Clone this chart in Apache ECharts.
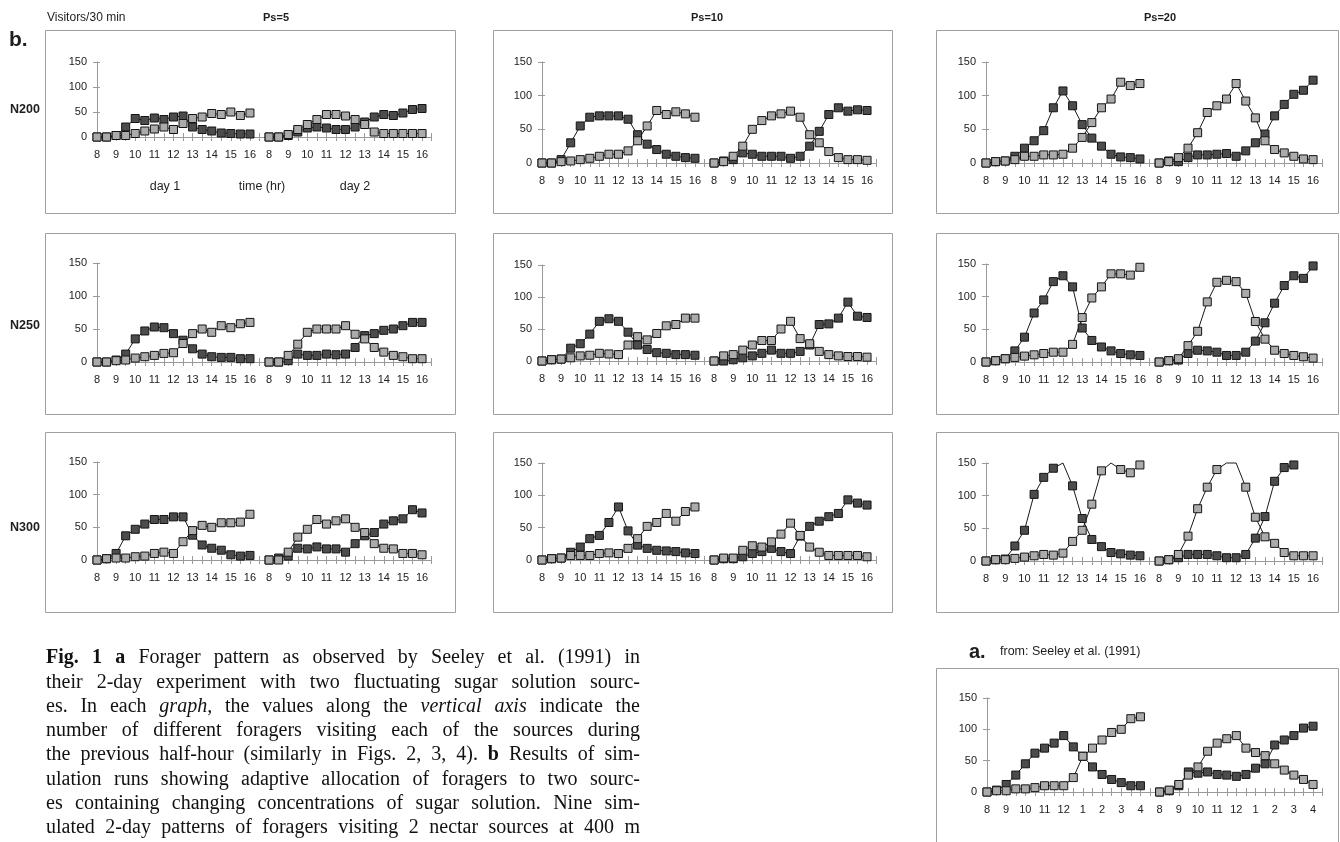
<!DOCTYPE html>
<html><head><meta charset="utf-8">
<script src="https://cdn.jsdelivr.net/npm/echarts@6/dist/echarts.min.js"></script>
<style>html,body{margin:0;padding:0;background:#fff}#c{width:1340px;height:842px}</style>
</head><body><div id="c"></div>
<script>
// ---- tick labels ----
const hoursSim = ['8','9','10','11','12','13','14','15','16'];
const hoursSeeley = ['8','9','10','11','12','1','2','3','4'];

// ---- data: 17 half-hour values for day 1 (8:00-16:00) followed by 17 for day 2 ----
// N200
const n200_ps5_dark   = [0,0,3,20,37,33,38,35,40,42,20,15,12,8,7,6,6,  0,0,3,10,18,20,18,15,15,20,30,40,45,43,48,55,57];
const n200_ps5_light  = [0,0,3,3,7,12,16,20,15,27,37,40,47,45,50,43,48,  0,0,5,15,25,35,45,45,42,35,25,10,7,7,7,7,7];
const n200_ps10_dark  = [0,0,5,30,55,68,70,70,70,65,42,28,20,13,10,8,7,  0,3,5,15,13,10,10,10,7,10,25,47,72,82,77,79,78];
const n200_ps10_light = [0,0,2,3,5,7,10,13,13,18,33,55,78,72,76,73,68,  0,2,10,25,50,63,70,73,77,68,42,30,17,8,5,5,4];
const n200_ps20_dark  = [0,2,3,10,22,33,48,82,107,85,57,37,25,13,9,8,6,  0,3,2,8,12,12,13,14,10,18,30,43,70,87,102,108,123];
const n200_ps20_light = [0,2,3,5,10,10,12,12,13,22,38,60,82,95,120,115,118,  0,2,8,22,45,75,85,95,118,92,67,33,20,15,10,6,5];
// N250
const n250_ps5_dark   = [0,0,3,12,35,47,53,52,43,33,20,12,8,7,7,5,5,  0,0,2,12,10,10,12,11,12,22,40,43,48,50,55,60,60];
const n250_ps5_light  = [0,0,2,3,6,8,10,13,14,28,43,50,45,55,52,58,60,  0,0,10,27,45,50,50,50,55,42,35,22,15,10,8,5,5];
const n250_ps10_dark  = [0,2,3,20,27,42,62,66,62,45,25,18,13,12,10,10,9,  0,0,2,5,8,12,17,12,12,15,25,57,58,67,92,70,68];
const n250_ps10_light = [0,2,3,5,8,9,12,11,10,25,38,33,43,55,57,67,67,  0,8,10,17,25,32,32,50,62,35,27,15,10,8,7,7,6];
const n250_ps20_dark  = [0,2,5,17,38,75,95,123,132,115,52,33,23,17,13,11,10,  0,2,3,13,18,17,15,10,10,15,32,60,90,117,132,128,147];
const n250_ps20_light = [0,2,5,7,9,11,13,15,15,27,68,98,115,135,135,133,145,  0,2,5,25,47,92,122,125,123,105,62,35,18,13,10,8,6];
// N300
const n300_ps5_dark   = [0,2,10,37,47,55,62,62,66,66,38,23,18,15,8,6,7,  0,3,6,18,17,20,17,17,12,25,37,42,55,60,63,77,72];
const n300_ps5_light  = [0,2,3,3,5,6,10,12,10,28,45,53,50,57,57,58,70,  0,0,12,35,47,62,55,60,63,50,42,25,18,17,10,10,8];
const n300_ps10_dark  = [0,2,3,12,20,33,38,58,82,45,23,18,15,14,13,11,10,  0,2,2,5,10,13,18,13,10,37,52,60,67,72,93,88,85];
const n300_ps10_light = [0,2,3,7,7,7,10,11,10,18,33,52,58,72,60,75,82,  0,3,3,15,22,20,28,40,57,38,20,12,7,7,7,7,5];
const n300_ps20_dark  = [0,2,3,23,47,102,128,142,153,115,65,33,22,13,11,9,8,  0,2,5,10,10,10,8,5,5,10,35,68,122,143,147,null,null];
const n300_ps20_light = [0,2,2,4,6,8,10,9,12,30,47,87,138,152,140,135,147,  0,2,10,38,80,113,140,156,156,113,67,37,27,13,8,8,8];
// Seeley et al. (1991)
const seeley_dark     = [0,3,12,27,45,62,70,78,90,72,57,40,28,20,15,10,10,  0,2,10,32,30,32,28,27,25,28,38,45,75,83,90,102,105];
const seeley_light    = [0,2,2,5,5,7,10,10,10,23,57,70,83,95,100,117,120,  0,3,12,27,40,65,78,85,90,70,63,58,45,35,27,20,12];

// ---- caption ----
const captionLines = [
  '*Fig. *1 *a Forager pattern as observed by Seeley et al. (1991) in',
  'their 2-day experiment with two fluctuating sugar solution sourc-',
  'es. In each _graph, the values along the _vertical _axis indicate the',
  'number of different foragers visiting each of the sources during',
  'the previous half-hour (similarly in Figs. 2, 3, 4). *b Results of sim-',
  'ulation runs showing adaptive allocation of foragers to two sourc-',
  'es containing changing concentrations of sugar solution. Nine sim-',
  'ulated 2-day patterns of foragers visiting 2 nectar sources at 400 m'
];

// ---- layout ----
const STEPS = 35; // 17 slots day 1, 1 gap slot, 17 slots day 2, 1 trailing slot
const panels = [
  {dark:n200_ps5_dark,  light:n200_ps5_light,  hours:hoursSim, left:97,  top:62,  step:9.56, height:75},
  {dark:n200_ps10_dark, light:n200_ps10_light, hours:hoursSim, left:542, top:62,  step:9.56, height:101},
  {dark:n200_ps20_dark, light:n200_ps20_light, hours:hoursSim, left:986, top:62,  step:9.62, height:101},
  {dark:n250_ps5_dark,  light:n250_ps5_light,  hours:hoursSim, left:97,  top:263, step:9.56, height:99},
  {dark:n250_ps10_dark, light:n250_ps10_light, hours:hoursSim, left:542, top:265, step:9.56, height:96},
  {dark:n250_ps20_dark, light:n250_ps20_light, hours:hoursSim, left:986, top:264, step:9.62, height:98},
  {dark:n300_ps5_dark,  light:n300_ps5_light,  hours:hoursSim, left:97,  top:462, step:9.56, height:98},
  {dark:n300_ps10_dark, light:n300_ps10_light, hours:hoursSim, left:542, top:463, step:9.56, height:97},
  {dark:n300_ps20_dark, light:n300_ps20_light, hours:hoursSim, left:986, top:463, step:9.62, height:98},
  {dark:seeley_dark,    light:seeley_light,    hours:hoursSeeley, left:987, top:698, step:9.59, height:94}
];
const boxes = [
  [45,30,410,183],[493,30,399,183],[936,30,402,183],
  [45,233,410,181],[493,233,399,181],[936,233,402,181],
  [45,432,410,180],[493,432,399,180],[936,432,402,180],
  [936,668,402,190]
];

const SANS = '"Liberation Sans", Arial, sans-serif';
const SERIF = '"Liberation Serif", "Times New Roman", serif';
const AX = '#9a9a9a';
const YMAX = 150;

function withGap(arr){ return arr.slice(0,17).concat([null]).concat(arr.slice(17)).concat([null]); }
// values above the axis maximum are pinned to the frame edge without a marker (as in the original plots)
function pin(arr){ return arr.map(v => (v != null && v > YMAX) ? {value:YMAX, symbol:'none'} : v); }
const cats = []; for (let i=0;i<=STEPS;i++) cats.push('c'+i);

const grids=[], xAxes=[], yAxes=[], series=[];
panels.forEach((p,k)=>{
  grids.push({left:p.left, top:p.top, width:p.step*STEPS, height:p.height});
  const fmt = (v, idx) => {
    if (idx <= 16 && idx % 2 === 0) return p.hours[idx/2];
    if (idx >= 18 && idx <= 34 && (idx-18) % 2 === 0) return p.hours[(idx-18)/2];
    return '';
  };
  xAxes.push({type:'category', gridIndex:k, data:cats, boundaryGap:false, position:'bottom',
    axisLine:{show:true, onZero:false, lineStyle:{color:AX, width:1}},
    axisTick:{show:true, interval:0, length:4, lineStyle:{color:AX}},
    axisLabel:{show:true, interval:0, formatter:fmt, color:'#222', fontSize:11, fontFamily:SANS, margin:12},
    splitLine:{show:false}});
  xAxes.push({type:'category', gridIndex:k, data:cats, boundaryGap:false, position:'bottom',
    axisLine:{show:false, onZero:false},
    axisTick:{show:true, inside:true, interval:0, length:4, lineStyle:{color:AX}},
    axisLabel:{show:false}, splitLine:{show:false}});
  yAxes.push({type:'value', gridIndex:k, min:0, max:YMAX, interval:50, position:'left',
    axisLine:{show:true, lineStyle:{color:AX}},
    axisTick:{show:true, length:4, lineStyle:{color:AX}},
    axisLabel:{color:'#222', fontSize:11, fontFamily:SANS, margin:10},
    splitLine:{show:false}});
  yAxes.push({type:'value', gridIndex:k, min:0, max:YMAX, interval:50, position:'left',
    axisLine:{show:false}, axisTick:{show:true, inside:true, length:3, lineStyle:{color:AX}},
    axisLabel:{show:false}, splitLine:{show:false}});
  const mk = (data, fill) => ({type:'line', xAxisIndex:2*k, yAxisIndex:2*k, data:pin(withGap(data)),
    symbol:'rect', symbolSize:8, showSymbol:true, showAllSymbol:true, connectNulls:false, clip:false,
    lineStyle:{color:'#1a1a1a', width:1},
    itemStyle:{color:fill, borderColor:'#141414', borderWidth:1},
    emphasis:{disabled:true}, silent:true, animation:false});
  series.push(mk(p.dark, '#4c4c4c'));
  series.push(mk(p.light, '#ababab'));
});

// graphic elements
const graphics = [];
boxes.forEach(b=>graphics.push({type:'rect', shape:{x:b[0]+0.5, y:b[1]+0.5, width:b[2], height:b[3]},
  style:{fill:'none', stroke:'#a0a0a0', lineWidth:1}, silent:true, z:-1}));
function txt(x,y,text,size,opt){
  opt = opt||{};
  graphics.push({type:'text', x:x, y:y, silent:true, style:{text:text, fontSize:size, fontFamily:opt.family||SANS,
    fontWeight:opt.weight||'normal', fontStyle:opt.style||'normal', fill:opt.fill||'#1e1e1e',
    textAlign:opt.align||'left', textVerticalAlign:'middle'}});
}
txt(47,18,'Visitors/30 min',12);
txt(276,18,'Ps=5',11,{weight:'bold',align:'center'});
txt(707,18,'Ps=10',11,{weight:'bold',align:'center'});
txt(1160,18,'Ps=20',11,{weight:'bold',align:'center'});
txt(9,40,'b.',21,{weight:'bold'});
txt(10,110,'N200',12.5,{weight:'bold'});
txt(10,326,'N250',12.5,{weight:'bold'});
txt(10,528,'N300',12.5,{weight:'bold'});
txt(165,187,'day 1',12.5,{align:'center'});
txt(262,187,'time (hr)',12.5,{align:'center'});
txt(355,187,'day 2',12.5,{align:'center'});
txt(969,652,'a.',20,{weight:'bold'});
txt(1000,652,'from: Seeley et al. (1991)',12.5);

// justified caption
const CAP_L = 46, CAP_R = 640, CAP_Y0 = 658, CAP_DY = 24.3, CAP_FS = 20;
const ctx = document.createElement('canvas').getContext('2d');
captionLines.forEach((line, li)=>{
  const words = line.split(' ').map(w=>{
    let weight='normal', style='normal', t=w;
    if (t[0]==='*'){ weight='bold'; t=t.slice(1); }
    else if (t[0]==='_'){ style='italic'; t=t.slice(1); }
    ctx.font = style+' '+weight+' '+CAP_FS+'px '+SERIF;
    return {t, weight, style, w: ctx.measureText(t).width};
  });
  const total = words.reduce((s,w)=>s+w.w,0);
  const gap = Math.max(3, (CAP_R-CAP_L-total)/(words.length-1));
  let x = CAP_L;
  words.forEach(w=>{
    txt(x, CAP_Y0+li*CAP_DY, w.t, CAP_FS, {family:SERIF, weight:w.weight, style:w.style, fill:'#111'});
    x += w.w + gap;
  });
});

const chart = echarts.init(document.getElementById('c'), null, {renderer:'canvas', width:1340, height:842});
chart.setOption({backgroundColor:'#fff', animation:false, grid:grids, xAxis:xAxes, yAxis:yAxes, series:series, graphic:{elements:graphics}});
</script></body></html>
